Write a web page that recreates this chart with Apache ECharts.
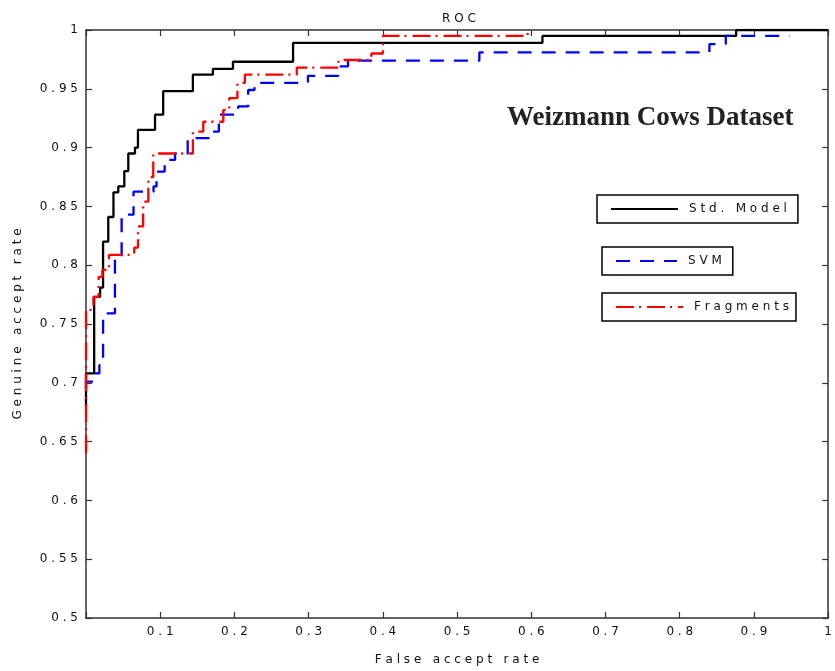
<!DOCTYPE html>
<html>
<head>
<meta charset="utf-8">
<script src="https://cdn.jsdelivr.net/npm/echarts@6/dist/echarts.min.js"></script>
<style>
  html, body { margin: 0; padding: 0; background: #fff; }
  #main { width: 835px; height: 671px; }
</style>
</head>
<body>
<div id="main"></div>
<script>
// ROC steps, [false accept rate, genuine accept rate]
var stdModel = [
    [0, 0.68], [0, 0.708], [0.011, 0.773], [0.019, 0.781], [0.023, 0.820],
    [0.030, 0.841], [0.037, 0.862], [0.0435, 0.867], [0.0516, 0.880], [0.057, 0.895],
    [0.066, 0.900], [0.070, 0.915], [0.093, 0.928], [0.104, 0.948], [0.144, 0.962],
    [0.171, 0.967], [0.198, 0.973], [0.279, 0.989], [0.615, 0.995], [0.876, 1], [1, 1]
];
var svm = [
    [0, 0.695], [0, 0.701], [0.011, 0.708], [0.018, 0.715], [0.023, 0.759], [0.039, 0.807],
    [0.048, 0.843], [0.064, 0.8625], [0.091, 0.867], [0.095, 0.8795], [0.106, 0.8895],
    [0.120, 0.895], [0.137, 0.908], [0.167, 0.9135], [0.179, 0.928], [0.205, 0.935],
    [0.2185, 0.949], [0.227, 0.955], [0.299, 0.961], [0.340, 0.969], [0.353, 0.974],
    [0.530, 0.981], [0.840, 0.988], [0.862, 0.995], [0.948, 0.995]
];
var fragments = [
    [0, 0.64], [0, 0.762], [0.010, 0.773], [0.017, 0.790], [0.022, 0.796], [0.031, 0.8087],
    [0.065, 0.815], [0.070, 0.833], [0.077, 0.854], [0.084, 0.875], [0.0906, 0.895],
    [0.144, 0.9135], [0.158, 0.922], [0.185, 0.932], [0.193, 0.942], [0.204, 0.955],
    [0.214, 0.962], [0.284, 0.968], [0.340, 0.9745], [0.3845, 0.980], [0.40, 0.995],
    [0.595, 1.0]
];
var seriesNames = ['Std. Model', 'SVM', 'Fragments'];

function spaced(s) {
    return String(s).split('').join(' ');
}
function tickText(v) {
    if (v === 0) return '';
    return spaced(String(+v.toFixed(2)));
}

var font = '"DejaVu Sans", sans-serif';
var axisColor = '#333';
var textColor = '#111';

function boxAxis(pos, isX, showLabels) {
    return {
        type: 'value',
        position: pos,
        min: isX ? 0 : 0.5,
        max: 1,
        interval: isX ? 0.1 : 0.05,
        axisLine: { show: true, onZero: false, lineStyle: { color: axisColor, width: 1.5 } },
        axisTick: { show: true, inside: true, length: 6, lineStyle: { color: axisColor, width: 1.2 } },
        splitLine: { show: false },
        axisLabel: {
            show: showLabels,
            formatter: tickText,
            color: textColor,
            fontFamily: font,
            fontSize: 12,
            margin: 8
        }
    };
}

var myChart = echarts.init(document.getElementById('main'));

var xBottom = boxAxis('bottom', true, true);
xBottom.name = spaced('False accept rate');
xBottom.nameLocation = 'middle';
xBottom.nameGap = 36;
xBottom.nameTextStyle = { color: textColor, fontFamily: font, fontSize: 12 };

var yLeft = boxAxis('left', false, true);
yLeft.name = spaced('Genuine accept rate');
yLeft.nameLocation = 'middle';
yLeft.nameGap = 62;
yLeft.nameTextStyle = { color: textColor, fontFamily: font, fontSize: 12 };

function legendBox(name, left, top, width, padRight) {
    return {
        data: [name],
        left: left,
        top: top,
        orient: 'vertical',
        selectedMode: false,
        itemWidth: width,
        itemHeight: 14,
        padding: [8, padRight, 8, 13],
        borderColor: '#000',
        borderWidth: 1.5,
        borderRadius: 0,
        // hide the marker dot, keep only the line sample
        itemStyle: { opacity: 0, color: 'rgba(0,0,0,0)', borderWidth: 0 },
        formatter: function (n) { return spaced(n); },
        textStyle: { color: textColor, fontFamily: font, fontSize: 12, padding: [0, 0, 0, 6] }
    };
}

var option = {
    animation: false,
    backgroundColor: '#fff',
    title: {
        text: spaced('ROC'),
        left: 437,
        top: 8,
        textStyle: { color: textColor, fontFamily: font, fontSize: 12, fontWeight: 'normal' }
    },
    grid: { left: 86, right: 6, top: 30, bottom: 53, containLabel: false },
    xAxis: [xBottom, boxAxis('top', true, false)],
    yAxis: [yLeft, boxAxis('right', false, false)],
    legend: [
        legendBox(seriesNames[0], 597, 195, 67, 11),
        legendBox(seriesNames[1], 602, 247, 61, 11),
        legendBox(seriesNames[2], 602, 293, 67, 7)
    ],
    graphic: [{
        type: 'text',
        left: 507,
        top: 105,
        style: {
            text: 'Weizmann Cows Dataset',
            font: 'bold 27px "Liberation Serif", serif',
            fill: '#222'
        }
    }],
    series: [
        {
            name: seriesNames[0],
            type: 'line',
            step: 'end',
            symbol: 'none',
            data: stdModel,
            lineStyle: { color: '#000', width: 2.3 },
            itemStyle: { color: '#000' }
        },
        {
            name: seriesNames[1],
            type: 'line',
            step: 'end',
            symbol: 'none',
            data: svm,
            lineStyle: { color: '#0000ff', width: 2.3, type: [14, 10] },
            itemStyle: { color: '#0000ff' }
        },
        {
            name: seriesNames[2],
            type: 'line',
            step: 'end',
            symbol: 'none',
            data: fragments,
            lineStyle: { color: '#ff0000', width: 2.3, type: [18, 5, 2, 6] },
            itemStyle: { color: '#ff0000' }
        }
    ]
};
myChart.setOption(option);
</script>
</body>
</html>
